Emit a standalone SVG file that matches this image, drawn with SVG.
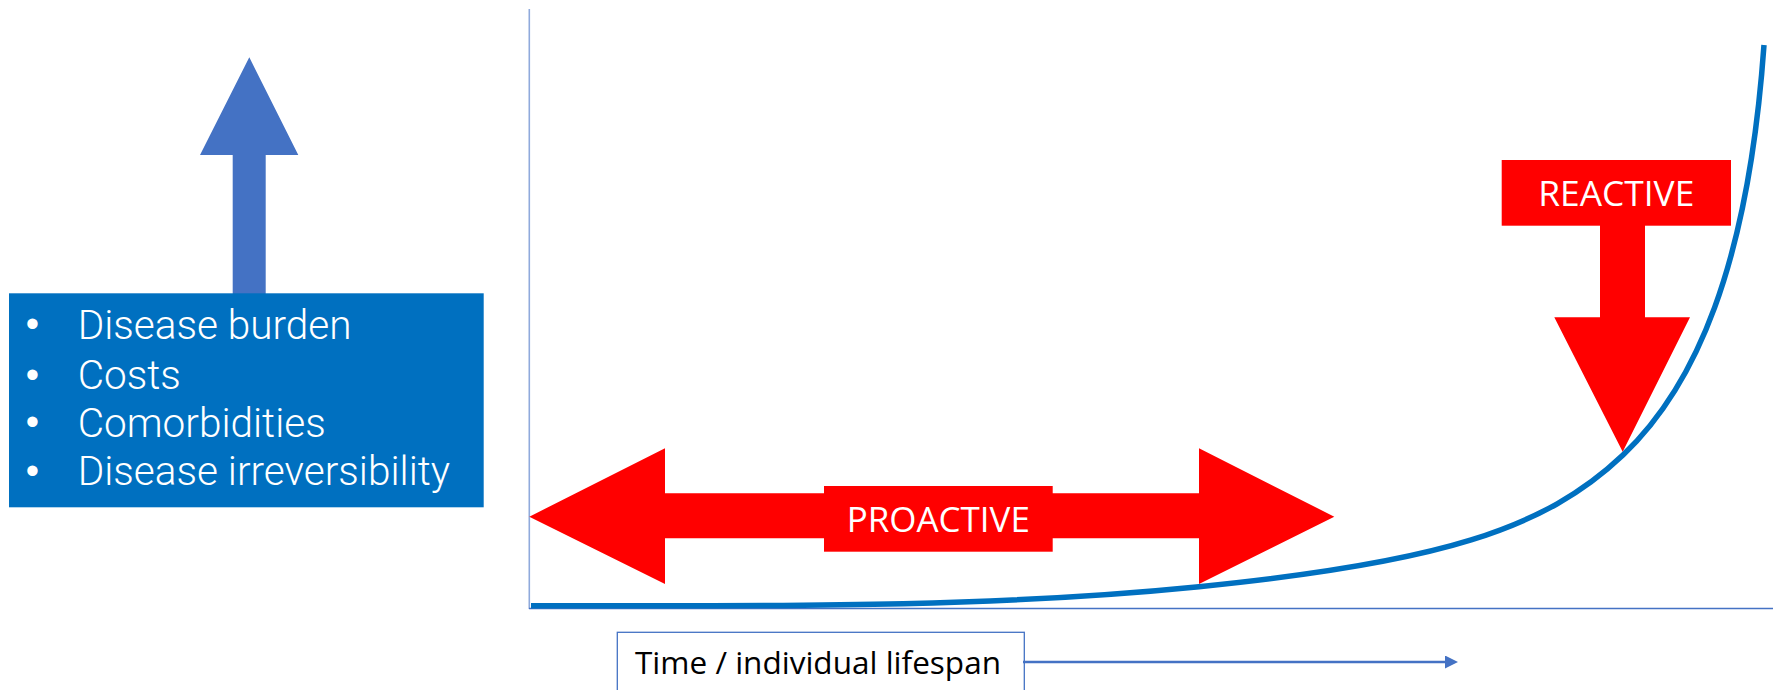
<svg xmlns="http://www.w3.org/2000/svg" width="1773" height="690" viewBox="0 0 1773 690">
  <defs>
    <style>
      .axis { fill: none; stroke: #4472C4; stroke-width: 1.3; }
      .yaxis { fill: none; stroke: #8FAADC; stroke-width: 1.6; }
      .curve { fill: none; stroke: #0070C0; stroke-width: 5.5; }
      .red { fill: #FF0000; }
      .blueArrow { fill: #4472C4; }
      .panel { fill: #0070C0; }
      .listText { font-family: Roboto, "Noto Sans", sans-serif; font-weight: 300; font-size: 40.5px; fill: #FFFFFF; }
      .bullet { font-family: "Liberation Sans", Arial, sans-serif; font-size: 38px; fill: #FFFFFF; text-anchor: middle; }
      .tag { font-family: "Open Sans", "Noto Sans", sans-serif; font-size: 35px; fill: #FFFFFF; text-anchor: middle; }
      .timeBox { fill: #FFFFFF; stroke: #4472C4; stroke-width: 1.3; }
      .timeText { font-family: "Open Sans", "Liberation Sans", sans-serif; font-size: 31px; fill: #000000; }
      .link { fill: none; stroke: #4472C4; stroke-width: 2.5; }
    </style>
    <marker id="arrowHead" viewBox="0 0 13 13" refX="0" refY="6.5" markerWidth="13" markerHeight="13" markerUnits="userSpaceOnUse" orient="auto">
      <path d="M0,0 L13,6.5 L0,13 Z" fill="#4472C4"/>
    </marker>
  </defs>

  <!-- chart axes -->
  <g id="axes">
    <line class="yaxis" x1="529.3" y1="9" x2="529.3" y2="609"/>
    <line class="axis" x1="529" y1="608.5" x2="1773" y2="608.5"/>
  </g>

  <!-- burden curve over lifetime -->
  <g id="burden-curve">
    <path class="curve" d="M531,605.7 C753.7,605.7 976.3,609 1199,586.7 C1438.25,562.8 1544.25,529.8 1623,455 C1695,386.7 1748.2,267 1764,45"/>
  </g>

  <!-- vertical blue arrow above the list -->
  <g id="burden-arrow">
    <polygon class="blueArrow" points="249.3,57.3 298.3,155 265.7,155 265.7,294 232.7,294 232.7,155 200,155"/>
  </g>

  <!-- list panel -->
  <g id="burden-list">
    <rect class="panel" x="9" y="293.3" width="474.7" height="214"/>
    <text class="bullet" x="32.3" y="337">•</text>
    <text class="listText" x="77.7" y="339">Disease burden</text>
    <text class="bullet" x="32.3" y="388">•</text>
    <text class="listText" x="77.7" y="389.3">Costs</text>
    <text class="bullet" x="32.3" y="435">•</text>
    <text class="listText" x="77.7" y="437.3">Comorbidities</text>
    <text class="bullet" x="32.3" y="483.5">•</text>
    <text class="listText" x="77.7" y="485">Disease irreversibility</text>
  </g>

  <!-- proactive double arrow -->
  <g id="proactive">
    <polygon class="red" points="529.3,516.7 665,448.3 665,493.3 1199,493.3 1199,448.3 1334.3,516.7 1199,584 1199,538.3 665,538.3 665,584"/>
    <rect class="red" x="824" y="486" width="228.7" height="65.7"/>
    <text class="tag" x="938.3" y="531.7" textLength="183" lengthAdjust="spacingAndGlyphs">PROACTIVE</text>
  </g>

  <!-- reactive down arrow -->
  <g id="reactive">
    <rect class="red" x="1501.7" y="160" width="229.3" height="65.7"/>
    <polygon class="red" points="1600,225 1645,225 1645,317.3 1690,317.3 1622.7,451.7 1554.3,317.3 1600,317.3"/>
    <text class="tag" x="1616.3" y="206" textLength="156" lengthAdjust="spacingAndGlyphs">REACTIVE</text>
  </g>

  <!-- time label -->
  <g id="time-label">
    <rect class="timeBox" x="617.3" y="632.3" width="407" height="70"/>
    <text class="timeText" x="635" y="674.3" textLength="366" lengthAdjust="spacingAndGlyphs">Time / individual lifespan</text>
  </g>

  <!-- connectors -->
  <g id="connectors">
    <line class="link" x1="1023" y1="662" x2="1445" y2="662" marker-end="url(#arrowHead)"/>
  </g>
</svg>
